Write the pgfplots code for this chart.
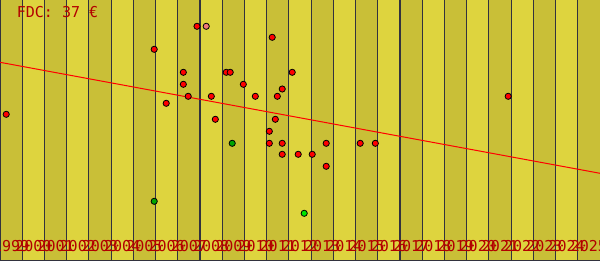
\documentclass[border=0pt]{standalone}
\usepackage{pgfplots}
\pgfplotsset{compat=1.18}
\usepackage{fontspec}
\setmainfont{DejaVu Sans Mono}
\definecolor{bandL}{RGB}{222,212,62}
\definecolor{bandD}{RGB}{201,191,55}
\definecolor{gridc}{RGB}{50,50,62}
\definecolor{txt}{RGB}{178,0,0}
\definecolor{pinkr}{RGB}{240,120,120}
\definecolor{dgreen}{RGB}{0,165,0}
\definecolor{lgreen}{RGB}{0,230,0}
\begin{document}
\begin{tikzpicture}
\begin{axis}[name=ax, width=600pt, height=260pt, scale only axis,
  xmin=1999, xmax=2026, ymin=0, ymax=260,
  axis line style={draw=none}, ytick=\empty, axis on top,
  xtick={1999.5,2000.5,2001.5,2002.5,2003.5,2004.5,2005.5,2006.5,2007.5,2008.5,2009.5,2010.5,2011.5,2012.5,2013.5,2014.5,2015.5,2016.5,2017.5,2018.5,2019.5,2020.5,2021.5,2022.5,2023.5,2024.5,2025.5},
  xticklabels={1999,2000,2001,2002,2003,2004,2005,2006,2007,2008,2009,2010,2011,2012,2013,2014,2015,2016,2017,2018,2019,2020,2021,2022,2023,2024,2025},
  major tick length=0pt,
  xticklabel style={anchor=base, yshift=9pt, font=\fontsize{15}{15}\selectfont, text=txt},
  clip=true]
\foreach \k in {0,...,26} {
  \pgfmathtruncatemacro{\a}{1999+\k}
  \pgfmathtruncatemacro{\b}{2000+\k}
  \pgfmathtruncatemacro{\e}{mod(\k,2)}
  \ifnum\e=0
    \edef\tmp{\noexpand\fill[bandD] (axis cs:\a,0) rectangle (axis cs:\b,260);}\tmp
  \else
    \edef\tmp{\noexpand\fill[bandL] (axis cs:\a,0) rectangle (axis cs:\b,260);}\tmp
  \fi
}
\foreach \k in {1999,...,2025} {
  \edef\tmp{\noexpand\draw[gridc, line width=1.2pt] (axis cs:\k,0) -- (axis cs:\k,260);}\tmp
}
\draw[gridc, line width=1pt] (axis cs:1999,0) -- (axis cs:2026,0);
\addplot[red, line width=1pt] coordinates {(1999,197.7) (2026,86.7)};
\addplot[only marks, mark=*, mark size=3.1pt, mark options={draw=black, fill=red, line width=0.8pt}] coordinates {
(1999.28,145.7) (2005.94,210.7) (2007.865,233.7) (2011.25,222.7)
(2007.25,187.7) (2009.18,187.7) (2009.36,187.7) (2012.15,187.7)
(2007.25,175.7) (2009.95,175.7) (2011.70,171.0)
(2007.47,163.7) (2008.51,163.7) (2010.49,163.7) (2011.48,163.7)
(2006.48,156.7) (2008.69,140.7) (2011.39,140.7) (2011.12,128.7)
(2011.12,116.7) (2011.70,116.7) (2013.68,116.7)
(2011.70,105.7) (2012.42,105.7) (2013.05,105.7) (2013.68,93.7)
(2015.21,116.7) (2015.89,116.7) (2021.87,163.7)
};
\addplot[only marks, mark=*, mark size=3.1pt, mark options={draw=black, fill=pinkr, line width=0.8pt}] coordinates {(2008.28,233.7)};
\addplot[only marks, mark=*, mark size=3.1pt, mark options={draw=black, fill=dgreen, line width=0.8pt}] coordinates {(2009.45,116.7) (2005.94,58.7)};
\addplot[only marks, mark=*, mark size=3.1pt, mark options={draw=black, fill=lgreen, line width=0.8pt}] coordinates {(2012.69,46.7)};
\node[anchor=base west, text=txt, font=\fontsize{15}{15}\selectfont, inner sep=0pt] at (axis cs:1999.75,242.7) {FDC: 37 €};
\end{axis}
\pgfresetboundingbox
\useasboundingbox (ax.south west) rectangle (ax.north east);
\end{tikzpicture}
\end{document}
